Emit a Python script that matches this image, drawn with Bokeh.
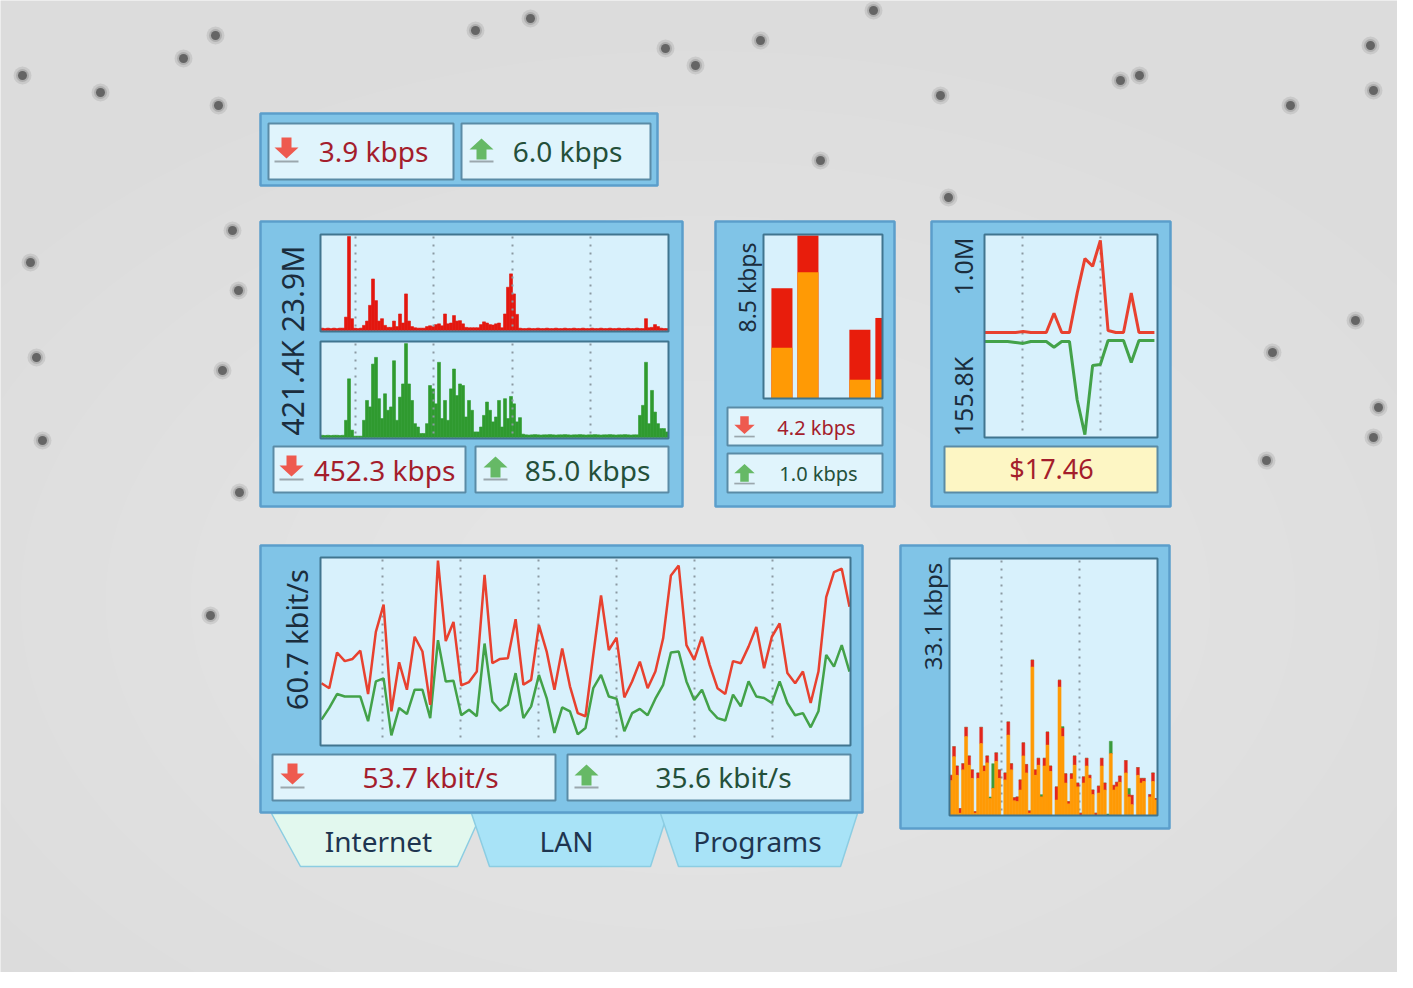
import numpy as np
from bokeh.plotting import figure
from bokeh.models import Range1d
from bokeh.core.properties import value
from bokeh.embed import file_html
from bokeh.resources import INLINE

# ---------------------------------------------------------------- data
top_readouts = ["3.9 kbps", "6.0 kbps"]

graph_axis_label = "421.4K 23.9M"
graph_down_max = 23.9   # M
graph_up_max = 421.4    # K
graph_down_M = [
    0.6, 0.5, 0.6, 0.5, 0.6, 0.5, 0.6, 0.6,
    3.4, 23.9, 3.0, 0.6, 0.5, 0.6, 1.3, 2.4, 6.4, 13.1, 7.6, 2.4,
    3.0, 1.3, 0.8, 0.8, 2.4, 1.0, 4.2, 1.9, 9.3, 2.4,
    1.0, 0.7, 0.6, 0.6, 0.6, 1.0, 1.2, 1.0, 1.5, 1.7,
    1.2, 4.2, 1.7, 1.9, 3.8, 2.4, 2.5, 1.7, 0.8, 0.7,
    0.7, 0.7, 0.7, 1.5, 2.2, 1.9, 1.5, 1.4, 1.7, 1.9,
    0.7, 4.2, 11.0, 14.4, 9.3, 4.1,
    0.6, 0.5, 0.5, 0.6, 0.5, 0.5, 0.6, 0.5, 0.5, 0.6,
    0.5, 0.5, 0.6, 0.5, 0.5, 0.6, 0.5, 0.5, 0.6, 0.5,
    0.5, 0.6, 0.5, 0.5, 0.6, 0.5, 0.5, 0.6, 0.5, 0.5,
    0.6, 0.5, 0.5, 0.6, 0.5, 0.5, 0.6, 0.5, 0.5, 0.6,
    0.5, 0.5,
    3.0, 0.7, 0.8, 1.5, 1.0, 0.6, 0.5, 0.5,
]
graph_up_K = [
    10, 9, 10, 9, 10, 10, 9, 10,
    77, 263, 33, 6, 6, 6, 77, 166, 137, 329, 359, 174,
    85, 196, 122, 137, 344, 77, 181, 240, 421, 240,
    166, 62, 47, 18, 18, 62, 233, 218, 151, 337,
    85, 166, 77, 218, 307, 188, 240, 233, 92, 166,
    122, 25, 25, 47, 99, 159, 122, 70, 92, 166,
    47, 174, 85, 184, 151, 70, 89, 15,
    12, 11, 12, 13, 12, 11, 12, 12, 13, 12,
    11, 12, 12, 13, 12, 11, 12, 12, 13, 12,
    11, 12, 12, 13, 12, 11, 12, 12, 13, 12,
    11, 12, 12, 13, 12, 11, 12, 12,
    99, 144, 337, 62, 211, 114, 62, 40, 40, 25,
]
graph_readouts = ["452.3 kbps", "85.0 kbps"]

bar_axis_label = "8.5 kbps"
bar_max = 8.5
bar_slots = [0, 1, 2, 3, 4]
bar_download = [5.75, 8.5, 0.0, 3.58, 4.2]
bar_upload = [2.64, 6.58, 0.0, 0.98, 1.0]
bar_readouts = ["4.2 kbps", "1.0 kbps"]

mirror_labels = ["1.0M", "155.8K"]
mirror_down_max = 1.0    # M
mirror_up_max = 155.8    # K
mirror_down_M = [0.0, 0.0, 0.0, 0.0, 0.0, 0.01, 0.0, 0.0, 0.0, 0.2, 0.0, 0.0,
                 0.41, 0.77, 0.69, 0.96, 0.02, 0.0, 0.0, 0.41, 0.0, 0.0, 0.0]
mirror_up_K = [1.6, 1.6, 1.6, 1.6, 3.1, 4.7, 1.6, 1.6, 1.6, 10.9, 1.6, 1.6,
               96.6, 152.7, 40.5, 39.0, 0.0, 0.0, 0.0, 35.8, 0.0, 0.0, 0.0]
mirror_cost = "$17.46"

line_axis_label = "60.7 kbit/s"
line_max = 60.7
line_down = [20.2, 18.6, 30.2, 27.4, 28.1, 30.8, 16.7, 36.9, 45.7, 11.1,
             27.0, 18.1, 35.3, 30.5, 13.2, 60.0, 33.9, 40.1, 19.5, 20.6,
             24.0, 55.4, 26.7, 28.1, 28.3, 41.0, 19.7, 21.3, 39.1, 30.5,
             18.1, 31.5, 19.2, 10.5, 9.5, 29.4, 48.7, 31.0, 35.0, 15.6,
             20.8, 27.2, 18.6, 24.0, 34.8, 55.2, 58.4, 32.6, 27.8, 35.3,
             26.1, 18.6, 16.7, 27.4, 26.7, 32.1, 38.5, 25.1, 35.3, 39.6,
             23.5, 20.2, 24.0, 13.8, 24.0, 48.2, 56.3, 57.4, 45.0]
line_up = [8.4, 12.2, 16.7, 15.9, 15.9, 15.9, 7.9, 20.8, 21.8, 3.3,
           12.2, 10.2, 18.1, 18.1, 8.9, 34.2, 20.8, 21.0, 9.8, 11.6,
           9.5, 33.1, 14.3, 11.3, 13.2, 23.5, 8.9, 12.7, 22.9, 15.4,
           4.1, 12.4, 11.1, 3.6, 5.7, 18.6, 22.9, 15.9, 15.2, 4.6,
           10.5, 11.9, 9.8, 15.2, 19.7, 30.2, 30.5, 20.8, 14.8, 18.1,
           11.6, 8.9, 8.1, 16.5, 12.7, 20.8, 15.9, 15.4, 13.8, 20.8,
           13.8, 9.8, 10.5, 5.9, 11.1, 29.4, 25.6, 32.6, 24.0]
line_readouts = ["53.7 kbit/s", "35.6 kbit/s"]

col_axis_label = "33.1 kbps"
col_max = 33.1
col_orange = [4.5, 7.6, 5.2, 0.3, 5.9, 10.2, 6.5, 4.8, 0.3, 4.8,
              9.3, 5.7, 6.8, 2.2, 3.5, 7.0, 4.8, 0.0, 4.6, 10.4,
              5.9, 1.9, 1.8, 3.3, 7.7, 5.5, 0.3, 19.2, 5.2, 6.5,
              2.4, 6.4, 9.1, 5.7, 0.0, 2.0, 16.6, 10.2, 4.2, 1.5,
              4.7, 6.5, 3.7, 0.0, 4.2, 6.4, 4.8, 2.7, 0.0, 2.9,
              6.4, 3.3, 0.0, 8.0, 3.3, 3.7, 4.3, 0.0, 5.5, 2.4,
              1.4, 0.0, 5.2, 4.2, 4.4, 0.0, 2.4, 4.4, 2.0]
col_red = [0.7, 1.3, 1.2, 0.6, 0.8, 1.2, 1.2, 1.1, 0.2, 0.7,
           2.1, 0.7, 0.9, 0.0, 0.0, 1.1, 1.1, 0.0, 0.9, 1.7,
           0.8, 0.4, 0.6, 1.3, 1.7, 1.1, 0.3, 0.9, 0.7, 0.9,
           0.0, 1.0, 1.7, 0.7, 0.0, 1.7, 0.9, 1.1, 1.2, 0.3,
           0.7, 1.2, 0.5, 0.3, 0.8, 1.0, 0.4, 0.6, 0.3, 0.9,
           1.0, 0.9, 0.0, 0.0, 0.6, 0.6, 0.8, 0.0, 1.6, 0.3,
           1.2, 0.0, 1.0, 0.6, 0.4, 0.0, 0.3, 1.1, 0.2]
col_green = [0.0, 0.0, 0.0, 0.0, 0.0, 0.0, 0.0, 0.0, 0.0, 0.0,
             0.0, 0.0, 0.0, 0.2, 3.2, 0.0, 0.0, 0.0, 0.0, 0.0,
             0.0, 0.0, 0.0, 0.0, 0.0, 0.0, 0.0, 0.0, 0.0, 0.0,
             0.3, 0.0, 0.0, 0.0, 0.0, 0.0, 0.0, 0.2, 0.0, 0.0,
             0.0, 0.0, 0.0, 0.0, 0.0, 0.0, 0.0, 0.0, 0.0, 0.0,
             0.0, 0.0, 0.2, 1.6, 0.0, 0.0, 0.0, 0.0, 0.0, 0.8,
             0.0, 0.0, 0.0, 0.0, 0.0, 0.0, 0.0, 0.0, 0.0]

tab_names = ["Internet", "LAN", "Programs"]

# ---------------------------------------------------------------- styles
FONT = value("Noto Sans")
PANEL, PANEL_EDGE = "#80c4e7", "#5b9ecb"
CHART_BG, CHART_EDGE = "#d8f1fc", "#40758f"
BOX_BG, BOX_EDGE = "#e0f4fc", "#5a8ba6"
RED_FILL, GREEN_FILL = "#e3170f", "#2f9a2f"
RED_LINE, GREEN_LINE = "#e8412f", "#43a249"
ORANGE = "#ff9a05"
DOWN_TXT, UP_TXT = "#a41d2c", "#24503a"
AXIS_TXT, TAB_TXT = "#1b2d3d", "#1e3550"
GRID = "#8b9aa2"

W, H = 1397, 972
SX0, SX1, SY0, SY1 = 0, W, 0, H

p = figure(width=W, height=H, x_range=Range1d(SX0, SX1), y_range=Range1d(SY1, SY0),
           output_backend="svg", toolbar_location=None, min_border=0,
           x_axis_location=None, y_axis_location=None,
           background_fill_color="#dcdcdc", border_fill_color="#dcdcdc",
           outline_line_color=None)
p.grid.visible = False

ex_x, ex_y = {}, {}


def region(name, px0, px1, d0, d1, pyb, pyt, v0, v1):
    """Map data window [d0,d1]x[v0,v1] onto the pixel box of a small chart."""
    kx = (d1 - d0) / (px1 - px0)
    ex_x[name] = Range1d(d0 - kx * (px0 - SX0), d0 + kx * (SX1 - px0))
    ky = (v1 - v0) / (pyb - pyt)
    ex_y[name] = Range1d(v0 - ky * (SY1 - pyb), v0 + ky * (pyb - SY0))
    return dict(x_range_name=name, y_range_name=name)


def box(x0, y0, x1, y1, fill, line, lw=2):
    p.quad(left=[x0], right=[x1], top=[y0], bottom=[y1],
           fill_color=fill, line_color=line, line_width=lw)


def border(x0, y0, x1, y1, line=CHART_EDGE, lw=2):
    p.quad(left=[x0], right=[x1], top=[y0], bottom=[y1],
           fill_color=None, line_color=line, line_width=lw)


def dotted(xs, y0, y1):
    p.segment(x0=xs, x1=xs, y0=[y0] * len(xs), y1=[y1] * len(xs),
              line_color=GRID, line_width=2, line_dash="2 6")


def label(x, y, txt, size, color, angle=0.0):
    p.text(x=[x], y=[y], text=[txt], text_font=FONT, text_font_size=size,
           text_color=color, text_align="center", text_baseline="middle", angle=angle)


def arrow(cx, cy, up, s=1.0):
    shape = [(-5, -11), (5, -11), (5, -1), (12, -1), (0, 10), (-12, -1), (-5, -1)]
    sg = -1 if up else 1
    xs = [cx + s * dx for dx, dy in shape]
    ys = [cy + s * sg * dy for dx, dy in shape]
    p.patch(xs, ys, fill_color="#66b966" if up else "#ee5a4f", line_color=None)
    p.quad(left=[cx - 12 * s], right=[cx + 12 * s], top=[cy + 12 * s], bottom=[cy + 14 * s],
           fill_color="#9ba7ad", line_color=None)


# ---------------------------------------------------------------- background decoration
for k in range(8):
    p.ellipse(x=[700], y=[600], width=[1700 - 170 * k], height=[1100 - 110 * k],
              fill_color="#ffffff", fill_alpha=0.045, line_color=None)
dots = [(215, 35), (183, 58), (22, 75), (100, 92), (475, 30), (530, 18), (665, 48),
        (695, 65), (760, 40), (820, 160), (873, 10), (940, 95), (948, 197), (1120, 80),
        (1139, 75), (1290, 105), (1370, 45), (1373, 90), (1272, 352), (1378, 407),
        (1373, 437), (1266, 460), (1355, 320), (36, 357), (30, 262), (42, 440),
        (232, 230), (238, 290), (218, 105), (222, 370), (239, 492), (210, 615)]
dx = [d[0] for d in dots]
dy = [d[1] for d in dots]
p.scatter(dx, dy, size=18, fill_color="#444444", fill_alpha=0.12, line_color=None)
p.scatter(dx, dy, size=13, fill_color="#444444", fill_alpha=0.2, line_color=None)
p.scatter(dx, dy, size=9, fill_color="#333333", fill_alpha=0.6, line_color=None)

# ---------------------------------------------------------------- tabs
tab_shapes = [[(271, 813), (481, 813), (457, 866), (300, 866)],
              [(471, 813), (667, 813), (650, 866), (489, 866)],
              [(660, 813), (857, 813), (840, 866), (678, 866)]]
tab_fill = ["#e2f8ee", "#a8e3f7", "#a8e3f7"]
for shp, fc in zip(tab_shapes, tab_fill):
    p.patch([a for a, b in shp], [b for a, b in shp], fill_color=fc,
            line_color="#8ccde2", line_width=1.5)
for name, cx in zip(tab_names, [378, 566, 757]):
    label(cx, 840, name, "28px", TAB_TXT)

# ---------------------------------------------------------------- panel frames
box(260, 113, 657, 185, PANEL, PANEL_EDGE, 2.5)
box(260, 221, 682, 506, PANEL, PANEL_EDGE, 2.5)
box(715, 221, 894, 506, PANEL, PANEL_EDGE, 2.5)
box(931, 221, 1170, 506, PANEL, PANEL_EDGE, 2.5)
box(260, 545, 862, 812, PANEL, PANEL_EDGE, 2.5)
box(900, 545, 1169, 828, PANEL, PANEL_EDGE, 2.5)

# readout boxes
box(268, 123, 453, 179, BOX_BG, BOX_EDGE)
box(461, 123, 650, 179, BOX_BG, BOX_EDGE)
box(273, 446, 465, 492, BOX_BG, BOX_EDGE)
box(475, 446, 668, 492, BOX_BG, BOX_EDGE)
box(727, 407, 882, 445, BOX_BG, BOX_EDGE)
box(727, 453, 882, 492, BOX_BG, BOX_EDGE)
box(944, 446, 1157, 492, "#fdf6c4", BOX_EDGE)
box(272, 754, 555, 800, BOX_BG, BOX_EDGE)
box(567, 754, 850, 800, BOX_BG, BOX_EDGE)

# chart backgrounds
for c in [(320, 234, 668, 331), (320, 341, 668, 438), (763, 234, 882, 398),
          (984, 234, 1157, 437), (320, 557, 850, 745), (949, 558, 1157, 815)]:
    box(*c, CHART_BG, None, 0)

# ---------------------------------------------------------------- panel 2: area graphs
idx2 = np.arange(len(graph_down_M))
r = region("g2d", 320, 668, -0.5, 115.5, 330, 236, 0, graph_down_max)
p.vbar(x=idx2, top=graph_down_M, bottom=0, width=1.0, fill_color=RED_FILL,
       line_color=RED_FILL, line_width=0.6, **r)
r = region("g2u", 320, 668, -0.5, 115.5, 437, 343, 0, graph_up_max)
p.vbar(x=idx2, top=graph_up_K, bottom=0, width=1.0, fill_color=GREEN_FILL,
       line_color=GREEN_FILL, line_width=0.6, **r)
dotted([355, 433, 512, 590], 236, 330)
dotted([355, 433, 512, 590], 343, 437)
border(320, 234, 668, 331)
border(320, 341, 668, 438)

# ---------------------------------------------------------------- panel 3: bars
BAR_X_END = 3.87
r = region("bar", 763, 882, -0.71, BAR_X_END, 398, 235, 0, bar_max)
slots = np.array(bar_slots, dtype=float)
b_left = slots - 0.405
b_right = np.minimum(slots + 0.405, BAR_X_END)   # newest bar is cut at the chart edge
p.quad(left=b_left, right=b_right, bottom=0, top=bar_download, fill_color="#e81d0c",
       line_color=None, **r)
p.quad(left=b_left, right=b_right, bottom=0, top=bar_upload, fill_color=ORANGE,
       line_color=None, **r)
border(763, 234, 882, 398)

# ---------------------------------------------------------------- panel 4: mirrored lines
dotted([1022, 1100], 236, 436)
idx4 = np.arange(len(mirror_down_M))
r = region("m_d", 984, 1157, 0, 22.4, 332, 236, 0, mirror_down_max)
p.line(idx4, mirror_down_M, line_color=RED_LINE, line_width=3, **r)
r = region("m_u", 984, 1157, 0, 22.4, 436, 340, mirror_up_max, 0)
p.line(idx4, mirror_up_K, line_color=GREEN_LINE, line_width=3, **r)
border(984, 234, 1157, 437)

# ---------------------------------------------------------------- panel 5: two lines
dotted([382, 460, 538, 616, 694, 772], 559, 743)
idx5 = np.arange(len(line_down))
r = region("ln", 321, 849, 0, 68, 745, 558, 0, line_max)
p.line(idx5, line_up, line_color=GREEN_LINE, line_width=2.5, **r)
p.line(idx5, line_down, line_color=RED_LINE, line_width=2.5, **r)
border(320, 557, 850, 745)

# ---------------------------------------------------------------- panel 6: columns
dotted([1001, 1079], 560, 813)
idx6 = np.arange(len(col_orange))
o = np.array(col_orange)
rd = o + np.array(col_red)
gr = rd + np.array(col_green)
r = region("col", 949, 1157, -0.5, 68.5, 815, 559, 0, col_max)
p.vbar(x=idx6, bottom=rd, top=gr, width=1.0, fill_color="#3b9b3b", line_color="#3b9b3b",
       line_width=0.4, **r)
p.vbar(x=idx6, bottom=o, top=rd, width=1.0, fill_color="#e2261b", line_color="#e2261b",
       line_width=0.4, **r)
p.vbar(x=idx6, bottom=0, top=o, width=1.0, fill_color=ORANGE, line_color=ORANGE,
       line_width=0.6, **r)
border(949, 558, 1157, 815)

# ---------------------------------------------------------------- texts
label(373, 150, top_readouts[0], "28px", DOWN_TXT)
label(567, 150, top_readouts[1], "28px", UP_TXT)
arrow(286, 148, False)
arrow(481, 148, True)

label(292, 340, graph_axis_label, "30px", AXIS_TXT, np.pi / 2)
label(384, 469, graph_readouts[0], "28px", DOWN_TXT)
label(587, 469, graph_readouts[1], "28px", UP_TXT)
arrow(291, 466, False)
arrow(495, 466, True)

label(746, 287, bar_axis_label, "23px", AXIS_TXT, np.pi / 2)
label(816, 427, bar_readouts[0], "20px", DOWN_TXT)
label(818, 473, bar_readouts[1], "20px", UP_TXT)
arrow(744, 425, False, 0.85)
arrow(744, 472, True, 0.85)

label(962, 266, mirror_labels[0], "25px", AXIS_TXT, np.pi / 2)
label(962, 396, mirror_labels[1], "25px", AXIS_TXT, np.pi / 2)
label(1051, 468, mirror_cost, "27px", DOWN_TXT)

label(296, 639, line_axis_label, "29px", AXIS_TXT, np.pi / 2)
label(430, 776, line_readouts[0], "28px", DOWN_TXT)
label(723, 776, line_readouts[1], "28px", UP_TXT)
arrow(292, 774, False)
arrow(586, 774, True)

label(932, 616, col_axis_label, "24px", AXIS_TXT, np.pi / 2)

p.extra_x_ranges = ex_x
p.extra_y_ranges = ex_y

open("out.html", "w").write(file_html(p, INLINE))
